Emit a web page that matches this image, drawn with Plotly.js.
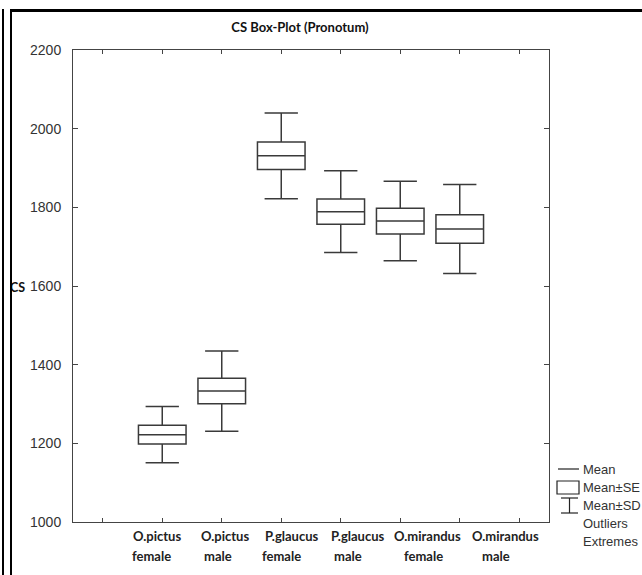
<!DOCTYPE html>
<html>
<head>
<meta charset="utf-8">
<script src="https://cdn.plot.ly/plotly-3.0.1.min.js"></script>
<style>
  html, body { margin: 0; padding: 0; background: #fff; }
  #chart { position: absolute; left: 0; top: 0; width: 642px; height: 575px; }
  .frame1 { position: absolute; left: 2px; top: 9px; width: 2px; height: 566px; background: #000; z-index: 10; }
  .frame2 { position: absolute; left: 10px; top: 9px; width: 632px; height: 566px; border-left: 2px solid #000; border-top: 3px solid #000; box-sizing: border-box; z-index: 10; }
</style>
</head>
<body>
<div id="chart"></div>
<div class="frame1"></div>
<div class="frame2"></div>
<script>
// ---- data ----
const categories = ['O.pictus female', 'O.pictus male', 'P.glaucus female', 'P.glaucus male', 'O.mirandus female', 'O.mirandus male'];
const labelTop = ['O.pictus', 'O.pictus', 'P.glaucus', 'P.glaucus', 'O.mirandus', 'O.mirandus'];
const labelBottom = ['female', 'male', 'female', 'male', 'female', 'male'];
const meanCS = [1222, 1333, 1931, 1789, 1765, 1745];
const seCS = [24, 32.5, 35, 32, 32.5, 36];
const sdCS = [71.5, 102, 109, 104, 101, 113];
const legendItems = ['Mean', 'Mean\u00b1SE', 'Mean\u00b1SD', 'Outliers', 'Extremes'];
const titleText = 'CS Box-Plot (Pronotum)';
const yTitle = 'CS';

// ---- layout geometry (pixels) ----
const W = 642, H = 575;
const L = 73, R = 549, T = 50, B = 522;
const px2x = p => (p - L) / (R - L);
const py2y = p => (B - p) / (B - T);

const xs = categories.map((c, i) => i + 2);

const boxTrace = {
  type: 'box',
  x: xs,
  q1: meanCS.map((m, i) => m - seCS[i]),
  median: meanCS,
  q3: meanCS.map((m, i) => m + seCS[i]),
  lowerfence: meanCS.map((m, i) => m - sdCS[i]),
  upperfence: meanCS.map((m, i) => m + sdCS[i]),
  width: 0.8,
  whiskerwidth: 0.7,
  fillcolor: '#ffffff',
  line: { color: '#3a3a3a', width: 1.5 },
  boxpoints: false,
  hoverinfo: 'skip',
  showlegend: false
};

const sans = "'Liberation Sans', Arial, sans-serif";
const labelFont = { family: 'Lato, "Open Sans", sans-serif', size: 13, color: '#222', weight: 700 };
const topX = [156.7, 225, 292, 357.5, 427, 505];
const botX = [151.7, 218.3, 281.7, 348, 423, 496];

const annotations = [];
labelTop.forEach((t, i) => {
  annotations.push({ xref: 'paper', yref: 'paper', x: px2x(topX[i]), y: py2y(535.5), text: t,
    showarrow: false, xanchor: 'center', yanchor: 'middle', font: labelFont });
  annotations.push({ xref: 'paper', yref: 'paper', x: px2x(botX[i]), y: py2y(556), text: labelBottom[i],
    showarrow: false, xanchor: 'center', yanchor: 'middle', font: labelFont });
});
annotations.push({ xref: 'paper', yref: 'paper', x: px2x(17), y: py2y(287), text: yTitle,
  showarrow: false, xanchor: 'center', yanchor: 'middle', font: { family: 'Lato, sans-serif', size: 12.5, color: '#111', weight: 700 } });

// legend (drawn as shapes + text)
const legY = [469, 487, 505, 523, 541];
const legFont = { family: sans, size: 13, color: '#333' };
legendItems.forEach((t, i) => {
  annotations.push({ xref: 'paper', yref: 'paper', x: px2x(581), y: py2y(legY[i]), text: t,
    showarrow: false, xanchor: 'left', yanchor: 'middle', font: legFont });
});
const symLine = { color: '#222', width: 1.2 };
const shapes = [
  { type: 'line', xref: 'paper', yref: 'paper', x0: px2x(558), x1: px2x(579), y0: py2y(469), y1: py2y(469), line: symLine },
  { type: 'rect', xref: 'paper', yref: 'paper', x0: px2x(557), x1: px2x(579), y0: py2y(481), y1: py2y(494), line: symLine, fillcolor: 'rgba(0,0,0,0)' },
  { type: 'line', xref: 'paper', yref: 'paper', x0: px2x(561), x1: px2x(578), y0: py2y(498), y1: py2y(498), line: symLine },
  { type: 'line', xref: 'paper', yref: 'paper', x0: px2x(569.5), x1: px2x(569.5), y0: py2y(498), y1: py2y(513), line: symLine },
  { type: 'line', xref: 'paper', yref: 'paper', x0: px2x(561), x1: px2x(578), y0: py2y(513), y1: py2y(513), line: symLine }
];

const axisCommon = {
  showline: true, linecolor: '#444', linewidth: 1, mirror: 'ticks',
  ticks: 'inside', tickcolor: '#444', tickwidth: 1,
  showgrid: false, zeroline: false, fixedrange: true
};

const layout = {
  width: W, height: H,
  margin: { l: L, r: W - R, t: T, b: H - B, pad: 0 },
  paper_bgcolor: '#ffffff', plot_bgcolor: '#ffffff',
  title: { text: titleText, xref: 'container', yref: 'container', x: 300 / W, y: 1 - 27 / H,
    xanchor: 'center', yanchor: 'middle', font: { family: 'Lato, sans-serif', size: 13, color: '#111', weight: 700 } },
  xaxis: Object.assign({}, axisCommon, { range: [0.5, 8.5], tickmode: 'linear', tick0: 1, dtick: 1, ticklen: 4, showticklabels: false }),
  yaxis: Object.assign({}, axisCommon, { range: [1000, 2200], tickmode: 'linear', tick0: 1000, dtick: 200, ticklen: 5,
    ticklabelstandoff: 8, tickfont: { family: sans, size: 14, color: '#333' } }),
  annotations: annotations,
  shapes: shapes,
  showlegend: false
};

Plotly.newPlot('chart', [boxTrace], layout, { staticPlot: true, displayModeBar: false });
</script>
</body>
</html>
